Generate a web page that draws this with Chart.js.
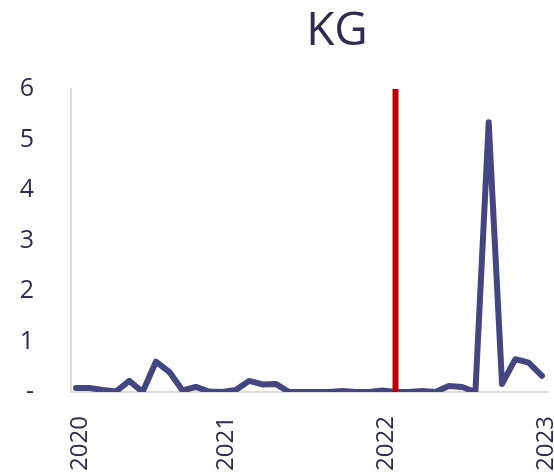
<!DOCTYPE html>
<html>
<head>
<meta charset="utf-8">
<script src="https://cdn.jsdelivr.net/npm/chart.js@4/dist/chart.umd.min.js"></script>
<style>
  html, body { margin: 0; padding: 0; background: #fff; overflow: hidden; }
  canvas { display: block; }
</style>
</head>
<body>
<canvas id="kgChart" width="554" height="476"></canvas>
<script>
// monthly values, Jan 2020 .. Dec 2022
const kgValues = [0.08, 0.08, 0.04, 0.01, 0.22, 0.0, 0.6, 0.4, 0.03, 0.1, 0.01, 0.0,
                  0.04, 0.22, 0.15, 0.16, 0.0, 0.0, 0.0, 0.0, 0.02, 0.0, 0.0, 0.03,
                  0.0, 0.0, 0.02, 0.0, 0.12, 0.1, 0.0, 5.34, 0.16, 0.65, 0.58, 0.32];
const yearTickIdx = [0, 11, 23, 35];
const yearLabels = ['2020', '2021', '2022', '2023'];
const markerIdx = 24;          // red marker, Jan 2022
const markerRange = [0, 6];
const chartTitle = 'KG';

const textColor = '#2d2d52';
const lineColor = '#434680';
const axisColor = '#dcdcdc';

// title drawn off-centre like the original
const titlePlugin = {
  id: 'offsetTitle',
  afterDraw(chart) {
    const ctx = chart.ctx;
    ctx.save();
    ctx.fillStyle = textColor;
    ctx.font = '46px "Open Sans"';
    ctx.textAlign = 'center';
    ctx.textBaseline = 'middle';
    ctx.fillText(chartTitle, 337, 32);
    ctx.restore();
  }
};

const points = kgValues.map((v, i) => ({ x: i, y: v }));
const marker = markerRange.map(v => ({ x: markerIdx, y: v }));

new Chart(document.getElementById('kgChart').getContext('2d'), {
  type: 'line',
  data: {
    datasets: [
      {
        data: marker,
        borderColor: '#c00000',
        borderWidth: 6,
        borderCapStyle: 'butt',
        pointRadius: 0
      },
      {
        data: points,
        borderColor: lineColor,
        borderWidth: 6,
        borderJoinStyle: 'round',
        borderCapStyle: 'round',
        tension: 0,
        pointRadius: 0
      }
    ]
  },
  options: {
    responsive: false,
    animation: false,
    devicePixelRatio: 1,
    layout: { padding: { top: 89, right: 7, left: 0, bottom: 0 } },
    plugins: {
      legend: { display: false },
      tooltip: { enabled: false }
    },
    scales: {
      x: {
        type: 'linear',
        min: -0.38,
        max: 35.38,
        grid: { display: false, drawTicks: false },
        border: { display: true, color: axisColor, width: 2 },
        afterBuildTicks: scale => {
          scale.ticks = yearTickIdx.map(v => ({ value: v }));
        },
        afterFit: scale => {
          scale.height = 84;
          // keep the rotated end labels from shrinking the plot
          scale.paddingLeft = 0;
          scale.paddingRight = 0;
        },
        ticks: {
          autoSkip: false,
          minRotation: 90,
          maxRotation: 90,
          padding: 24,
          labelOffset: 4,
          color: textColor,
          font: { family: 'Open Sans', size: 24 },
          callback: v => yearLabels[yearTickIdx.indexOf(v)]
        }
      },
      y: {
        min: 0,
        max: 6,
        grid: { display: false, drawTicks: false },
        border: { display: true, color: axisColor, width: 2 },
        afterFit: scale => {
          scale.width = 71;
          scale.paddingTop = 0;
          scale.paddingBottom = 0;
        },
        ticks: {
          stepSize: 1,
          padding: 37,
          color: textColor,
          font: { family: 'Open Sans', size: 25 },
          callback: v => (v === 0 ? '-' : v)
        }
      }
    }
  },
  plugins: [titlePlugin]
});
</script>
</body>
</html>
